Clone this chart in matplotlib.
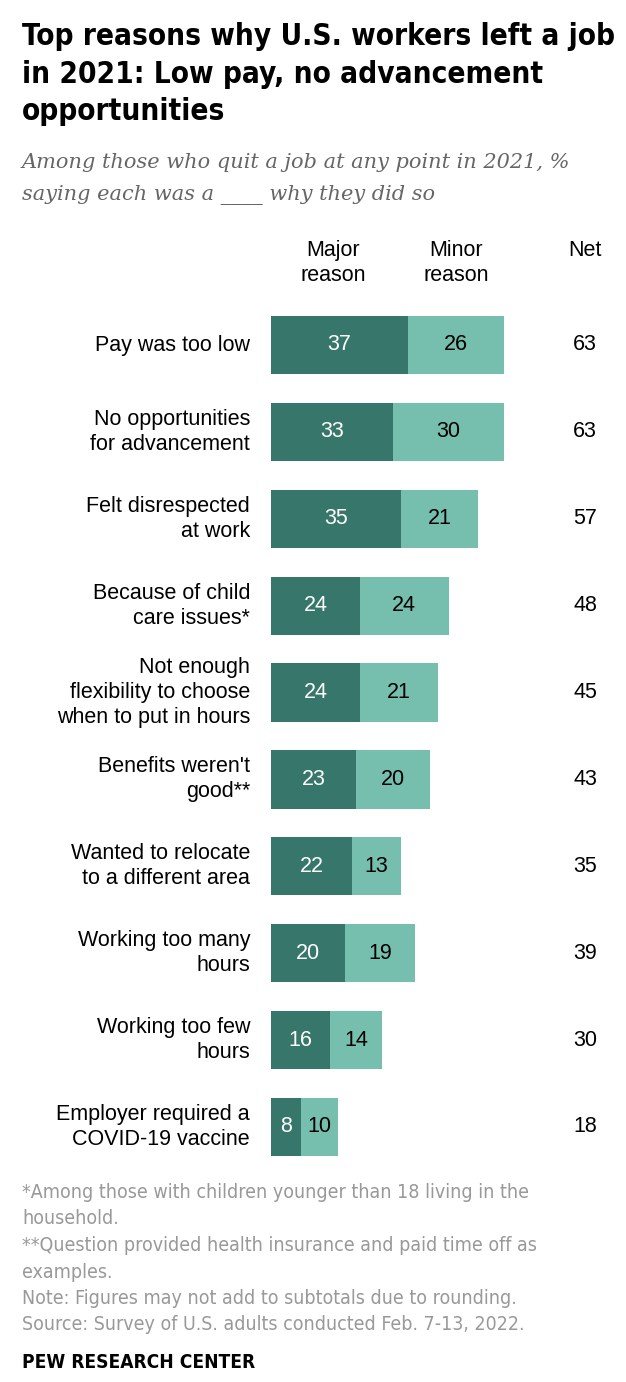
import matplotlib
matplotlib.use("Agg")
import matplotlib.pyplot as plt
from matplotlib.transforms import blended_transform_factory

# data
reasons = ["Pay was too low",
           "No opportunities\nfor advancement",
           "Felt disrespected\nat work",
           "Because of child\ncare issues*",
           "Not enough\nflexibility to choose\nwhen to put in hours",
           "Benefits weren't\ngood**",
           "Wanted to relocate\nto a different area",
           "Working too many\nhours",
           "Working too few\nhours",
           "Employer required a\nCOVID-19 vaccine"]
major = [37, 33, 35, 24, 24, 23, 22, 20, 16, 8]
minor = [26, 30, 21, 24, 21, 20, 13, 19, 14, 10]
net = [63, 63, 57, 48, 45, 43, 35, 39, 30, 18]

W, H = 626, 1382
dark = "#37766A"
light = "#76BEAD"
narrow = ["DejaVu Sans Condensed", "DejaVu Sans"]
sans = ["Liberation Sans", "DejaVu Sans"]

def fy(y):  # pixel y from top -> figure fraction
    return 1 - y / H

def fx(x):
    return x / W

fig = plt.figure(figsize=(W / 100, H / 100), dpi=100)
fig.patch.set_facecolor("white")

# axes for bars: rows 0..9, row pitch ~86.9 px, first row centre at 345 px
pitch = (1127 - 345) / 9
top_px = 345 - 0.5 * pitch
bot_px = 1127 + 0.5 * pitch
px_per_unit = 3.7
ax = fig.add_axes([fx(271), fy(bot_px), (W - 271) / W, (bot_px - top_px) / H])
ax.set_xlim(0, (W - 271) / px_per_unit)
ax.set_ylim(len(reasons) - 0.5, -0.5)
ax.axis("off")

ypos = list(range(len(reasons)))
ax.barh(ypos, major, height=0.67, color=dark, linewidth=0)
ax.barh(ypos, minor, left=major, height=0.67, color=light, linewidth=0)

trans = blended_transform_factory(fig.transFigure, ax.transData)
for i in ypos:
    ax.text(major[i] / 2, i, str(major[i]), ha="center", va="center",
            color="white", fontsize=15.5, family=sans)
    ax.text(major[i] + minor[i] / 2, i, str(minor[i]), ha="center", va="center",
            color="black", fontsize=15.5, family=sans)
    ax.text(fx(585), i, str(net[i]), transform=trans, ha="center", va="center",
            color="black", fontsize=15.5, family=sans)
    ax.text(fx(250), i, reasons[i], transform=trans, ha="right", va="center",
            color="black", fontsize=15.5, family=sans, linespacing=1.25)

# column headers
fig.text(fx(333), fy(263), "Major\nreason", ha="center", va="center",
         fontsize=15.5, family=sans, linespacing=1.25)
fig.text(fx(456), fy(263), "Minor\nreason", ha="center", va="center",
         fontsize=15.5, family=sans, linespacing=1.25)
fig.text(fx(585), fy(250), "Net", ha="center", va="center",
         fontsize=15.5, family=sans)

# title and subtitle
title = fig.text(fx(22), fy(22), "Top reasons why U.S. workers left a job\nin 2021: Low pay, no advancement\nopportunities",
                 ha="left", va="top", fontsize=20, fontweight="bold", family=narrow,
                 fontstretch="condensed", linespacing=1.38)
fig.text(fx(22), fy(153), "Among those who quit a job at any point in 2021, %\nsaying each was a ____ why they did so",
         ha="left", va="top", fontsize=15, style="italic", color="#666666",
         family=["DejaVu Serif"], linespacing=1.85)

# footer
notes = ("*Among those with children younger than 18 living in the\nhousehold.\n"
         "**Question provided health insurance and paid time off as\nexamples.\n"
         "Note: Figures may not add to subtotals due to rounding.\n"
         "Source: Survey of U.S. adults conducted Feb. 7-13, 2022.")
foot = fig.text(fx(22), fy(1183), notes, ha="left", va="top", fontsize=13.5,
                color="#999999", family=narrow, fontstretch="condensed", linespacing=1.5)
fig.text(fx(22), fy(1363), "PEW RESEARCH CENTER", ha="left", va="center",
         fontsize=13.7, fontweight="bold", family=narrow, fontstretch="condensed")

# shrink title / footer so the widest line fits the reference width
r = fig.canvas.get_renderer()
for t, target in [(title, 592), (foot, 512)]:
    w = t.get_window_extent(r).width
    t.set_fontsize(t.get_fontsize() * target / w)

fig.savefig("out.png", dpi=100)
